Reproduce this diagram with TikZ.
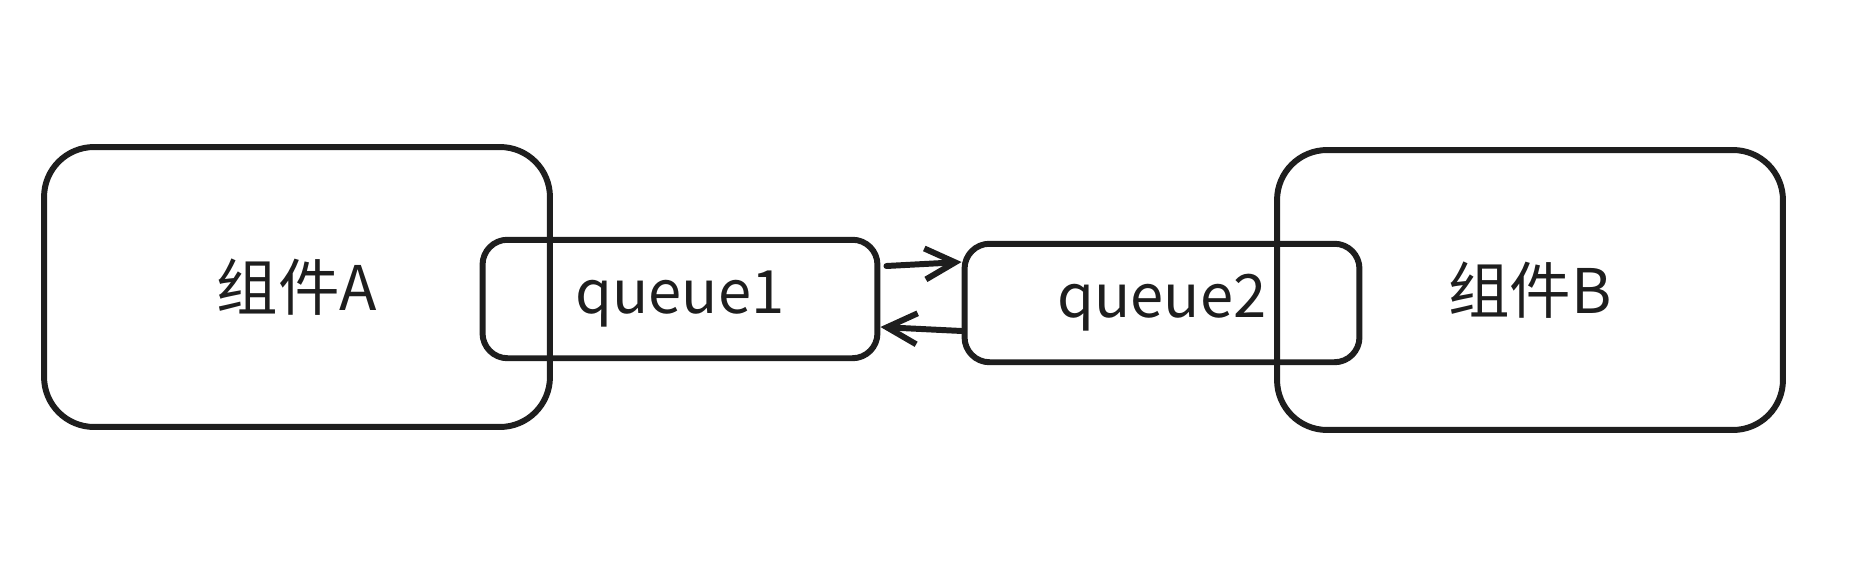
\documentclass[tikz,border=0pt]{standalone}
\usepackage{fontspec}
\setmainfont{Noto Sans CJK SC}
\usepackage{xcolor}
\usetikzlibrary{arrows.meta}

\definecolor{inkgray}{HTML}{1E1E1E}

\begin{document}
\begin{tikzpicture}[x=0.02cm, y=-0.02cm,
    comp/.style={draw=inkgray, line width=3.4pt, rectangle, rounded corners=1cm, minimum width=10.12cm, minimum height=5.6cm, font=\fontsize{35}{40}\selectfont, text=inkgray},
    queue/.style={draw=inkgray, line width=3.4pt, rectangle, rounded corners=0.5cm, minimum width=7.9cm, minimum height=2.37cm, font=\fontsize{34}{40}\selectfont, text=inkgray},
    link/.style={draw=inkgray, line width=3.4pt, line cap=round, -{Straight Barb[length=0.6cm, width=0.62cm, line width=3.4pt]}}]
    \useasboundingbox (0,0) rectangle (1876,571);
                \node[comp] (compA) at (297,287) {组件A};
                \node[queue] (queue1) at (680,299) {queue1};
                \node[queue] (queue2) at (1162,303) {queue2};
                \node[comp] (compB) at (1530,290) {组件B};
                \draw[link] ([xshift=0.12cm, yshift=0.66cm]queue1.east) -- ([yshift=0.82cm]queue2.west);
                \draw[link] ([yshift=-0.56cm]queue2.west) -- ([yshift=-0.56cm]queue1.east);
            \end{tikzpicture}
\end{document}
